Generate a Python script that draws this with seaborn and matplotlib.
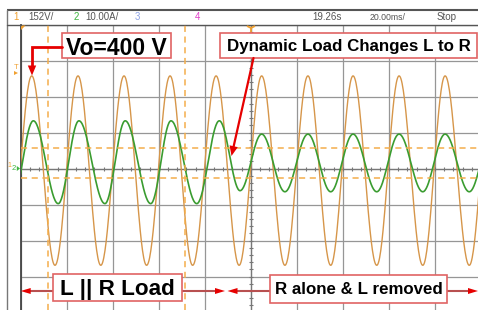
import numpy as np
import pandas as pd
import matplotlib
matplotlib.use("Agg")
import matplotlib.pyplot as plt
from matplotlib.patches import Rectangle, Polygon
import seaborn as sns

ch1_volts_per_div = 152.0      # "152V/"
ch2_amps_per_div = 10.0        # "10.00A/"
time_per_div_ms = 20.0         # "20.00ms/"

# Vo (channel 1): times (ms) of successive troughs/peaks and their values (V)
vo_times_ms = [-5.2, 4.8, 14.9, 24.9, 34.8, 44.9, 54.7, 64.9, 74.7, 84.9, 94.9,
               104.7, 114.8, 124.8, 134.7, 144.4, 154.7, 164.4, 174.7, 184.4, 194.9, 204.8]
vo_values_v = [-408, 392, -408, 392, -408, 392, -408, 392, -408, 392, -408,
               392, -408, 392, -408, 392, -408, 392, -408, 392, -408, 392]

# Load current (channel 2): times (ms) of successive troughs/peaks and values (A)
io_times_ms = [-4.0, 5.5, 16.3, 25.3, 36.6, 45.4, 56.5, 65.3, 76.5, 86.3, 95.3,
               104.7, 114.8, 124.8, 134.7, 144.4, 154.7, 164.4, 174.7, 184.4, 194.9, 204.8]
io_values_a = [-9.7, 13.3, -9.7, 13.3, -9.7, 13.3, -9.7, 13.3, -9.7, 13.3, -6.1,
               9.6, -6.4, 9.6, -6.4, 9.6, -6.4, 9.6, -6.4, 9.6, -6.4, 9.6]

# cursor positions (ms and divisions)
cursor_t_ms = [11.7, 71.4]
cursor_y_div = [0.575, -0.267]

header_left = [("1", "#f0a030"), ("152V/", "#555555"), ("2", "#3fb53f"),
               ("10.00A/", "#555555"), ("3", "#8fa4e6"), ("4", "#e040c8")]
header_right = ["19.26s", "20.00ms/", "Stop"]

labels = ["Vo=400 V", "Dynamic Load Changes L to R", "L || R Load", "R alone & L removed"]


def trace(times, values, scale):
    """Draw cosine-shaped half cycles between the read extrema."""
    ts, vs = [], []
    s = np.linspace(0, 1, 40)
    for (t0, t1), (v0, v1) in zip(zip(times[:-1], times[1:]), zip(values[:-1], values[1:])):
        ts.append(t0 + (t1 - t0) * s)
        vs.append(v0 + (v1 - v0) * (1 - np.cos(np.pi * s)) / 2)
    return np.concatenate(ts), np.concatenate(vs) / scale


t1, d1 = trace(vo_times_ms, vo_values_v, ch1_volts_per_div)
t2, d2 = trace(io_times_ms, io_values_a, ch2_amps_per_div)
df_v = pd.DataFrame({"t": t1, "div": d1})
df_i = pd.DataFrame({"t": t2, "div": d2})

# ---------------- figure ----------------
sns.set_style("white")
plt.rcParams["font.family"] = ["Liberation Sans", "DejaVu Sans"]

W, H = 478, 310
fig = plt.figure(figsize=(W / 100, H / 100), dpi=100)
fig.patch.set_facecolor("white")

gx0, gy0, div_px_x, div_px_y = 20.7, 24.7, 46.03, 36.0
ax = fig.add_axes([gx0 / W, 0, (W - gx0) / W, (H - gy0) / H])
ax.set_xlim(0, (W - gx0) / div_px_x * time_per_div_ms)
ax.set_ylim(4 - (H - gy0) / div_px_y, 4)

ax.set_xticks(np.arange(0, 200, 20))
ax.set_yticks(np.arange(-3, 5, 1))
ax.grid(True, color="#969696", lw=0.9)
ax.tick_params(length=0, labelbottom=False, labelleft=False)
for side in ["right", "bottom"]:
    ax.spines[side].set_visible(False)
ax.spines["left"].set_color("#444444")
ax.spines["left"].set_linewidth(1.3)
ax.spines["top"].set_color("#555555")
ax.spines["top"].set_linewidth(1.0)

# centre axes with minor ticks
ax.axhline(0, color="#777777", lw=0.9, zorder=1)
ax.axvline(100, color="#777777", lw=0.9, zorder=1)
ax.vlines(np.arange(4, 200, 4), -0.06, 0.06, color="#777777", lw=0.8, zorder=1)
ax.hlines(np.arange(-4, 4.01, 0.2), 99.1, 100.9, color="#777777", lw=0.8, zorder=1)

sns.lineplot(data=df_v, x="t", y="div", ax=ax, color="#d6964a", lw=1.0,
             sort=False, estimator=None, legend=False, zorder=3)
sns.lineplot(data=df_i, x="t", y="div", ax=ax, color="#3a9c30", lw=1.2,
             sort=False, estimator=None, legend=False, zorder=4)
ax.set_xlabel("")
ax.set_ylabel("")

for tc in cursor_t_ms:
    ax.axvline(tc, color="#f4ae4c", lw=1.1, ls=(0, (4, 3)), zorder=5)
for yc in cursor_y_div:
    ax.axhline(yc, color="#f4ae4c", lw=1.1, ls=(0, (4, 3)), zorder=5)

# ---------------- overlay in pixel coordinates ----------------
ov = fig.add_axes([0, 0, 1, 1], zorder=10)
ov.set_xlim(0, W)
ov.set_ylim(H, 0)
ov.axis("off")
ov.patch.set_alpha(0)

# scope frame / header bar
ov.plot([7, W], [10, 10], color="#555555", lw=1.5, solid_capstyle="butt")
ov.plot([7, 7], [10, H], color="#777777", lw=1.0)
ov.plot([7, gx0], [gy0, gy0], color="#555555", lw=1.0)

hx = [13.3, 28.3, 74, 85, 135, 195]
for (txt, col), x in zip(header_left, hx):
    ov.text(x, 17.5, txt, color=col, fontsize=7, ha="left", va="center")
for txt, x in zip(header_right, [312.7, 369.3, 436.7]):
    ov.text(x, 17.5, txt, color="#555555", fontsize=7 if txt != "20.00ms/" else 6.3,
            ha="left", va="center")

orange = "#f0a030"
# small scope markers
ov.add_patch(Polygon([(21, 25.5), (25.5, 25.5), (21, 30)], closed=True, color=orange, lw=0))
ov.plot([251], [27.5], marker="1", ms=7, mew=1.3, color=orange)
ov.text(16, 67.5, "T", color=orange, fontsize=5.5, ha="center", va="center")
ov.add_patch(Polygon([(14, 71), (18, 73), (14, 75)], closed=True, color=orange, lw=0))
ov.text(9.6, 165.5, "1", color=orange, fontsize=5, ha="center", va="center")
ov.text(14.2, 168.5, "2", color="#3fb53f", fontsize=5.5, ha="center", va="center")
ov.add_patch(Polygon([(16.8, 166), (20, 168.5), (16.8, 171)], closed=True, color="#3fb53f", lw=0))

red = "#e60000"
box_ec = "#e06464"

def box(x, y, w, h, txt, size, baseline):
    ov.add_patch(Rectangle((x, y), w, h, fc="white", ec=box_ec, lw=1.2, zorder=3))
    ov.text(x + w / 2, baseline, txt, fontsize=size, fontweight="bold", color="black",
            ha="center", va="baseline", zorder=4)

def head(tip, direction, length, half):
    d = np.asarray(direction, float)
    d = d / np.hypot(*d)
    n = np.array([-d[1], d[0]])
    tip = np.asarray(tip, float)
    base = tip - length * d
    ov.add_patch(Polygon([tip, base + half * n, base - half * n], closed=True,
                         color=red, lw=0, zorder=5))

# Vo arrow
ov.plot([61.7, 32, 32], [47, 47, 66], color=red, lw=2.0, zorder=4, solid_joinstyle="miter")
head((32, 75.5), (0, 1), 10, 4.2)
box(61.7, 33.3, 109.3, 25, labels[0], 16.5, 54.8)

# dynamic load arrow
start, tip = np.array([253.5, 58]), np.array([231.5, 156])
ov.plot([start[0], tip[0] + 2.0], [start[1], tip[1] - 9], color=red, lw=1.6, zorder=4)
head(tip, tip - start, 10, 4.2)
box(220, 33.3, 257, 25, labels[1], 12.2, 51.0)

# bottom span arrows
line_c = "#b85050"
yb = 291
ov.plot([25, 52.7], [yb, yb], color=line_c, lw=1.5, zorder=2)
ov.plot([181.7, 216], [yb, yb], color=line_c, lw=1.5, zorder=2)
ov.plot([236, 270], [yb, yb], color=line_c, lw=1.5, zorder=2)
ov.plot([447.3, 470], [yb, yb], color=line_c, lw=1.5, zorder=2)
head((20.7, yb), (-1, 0), 10, 3)
head((225, yb), (1, 0), 10, 3)
head((227.5, yb), (-1, 0), 10, 3)
head((478, yb), (1, 0), 10, 3)
box(52.7, 273.5, 129, 27.2, labels[2], 16.2, 295.0)
box(270, 275, 177.3, 27.7, labels[3], 12.2, 293.5)

fig.savefig("out.png", dpi=100, facecolor="white")
